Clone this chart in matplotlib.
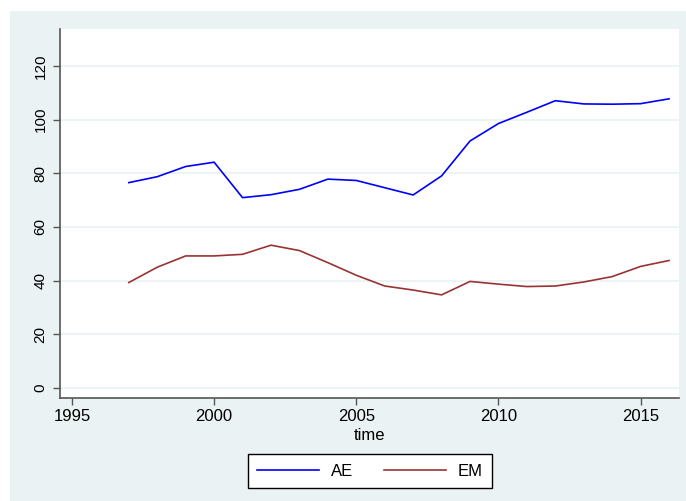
import matplotlib.pyplot as plt
from matplotlib.patches import Rectangle

years = list(range(1997, 2017))
ae = [76.5, 78.7, 82.5, 84.1, 70.9, 72.0, 74.0, 77.8, 77.3, 74.6,
      71.9, 79.0, 92.0, 98.5, 102.7, 107.0, 105.8, 105.7, 105.9, 107.7]
em = [39.3, 45.0, 49.2, 49.2, 49.8, 53.2, 51.2, 46.7, 42.0, 38.0,
      36.5, 34.7, 39.7, 38.7, 37.8, 38.0, 39.5, 41.5, 45.3, 47.5]
xticks = [1995, 2000, 2005, 2010, 2015]
yticks = [0, 20, 40, 60, 80, 100, 120]

plt.rcParams['font.family'] = ['Liberation Sans', 'DejaVu Sans']
bg = '#EAF2F3'
W, H = 686, 501

fig = plt.figure(figsize=(6.86, 5.01), dpi=100)
# white margin on top/left, then Stata-like pale background
fig.patches.append(Rectangle((10 / W, 0), 1 - 10 / W, 1 - 11 / H,
                             transform=fig.transFigure, facecolor=bg,
                             edgecolor='none', zorder=-10))

ax = fig.add_axes([60 / W, 1 - 398 / H, (679 - 60) / W, (398 - 29) / H])
ax.set_facecolor('white')
ax.plot(years, ae, color='#0000FF', lw=1.2, label='AE')
ax.plot(years, em, color='#993333', lw=1.2, label='EM')

ax.set_xlim(1994.58, 2016.35)
ax.set_ylim(-3.7, 133.7)
ax.set_xticks(xticks)
ax.set_yticks(yticks)
ax.set_yticklabels([str(v) for v in yticks], rotation=90, va='center')
ax.tick_params(axis='x', labelsize=12, pad=3)
ax.tick_params(axis='y', labelsize=11, pad=4)
ax.tick_params(axis='both', color='#555555', length=5, width=1)
ax.grid(axis='y', color=bg, lw=1.2)
ax.set_axisbelow(True)
for s in ['top', 'right']:
    ax.spines[s].set_visible(False)
for s in ['left', 'bottom']:
    ax.spines[s].set_color('#555555')
    ax.spines[s].set_linewidth(1.2)
ax.set_xlabel('time', fontsize=12, labelpad=3)

leg = fig.legend(loc='center', bbox_to_anchor=(370 / W, 1 - 471 / H), ncol=2,
                 frameon=True, fancybox=False, fontsize=12, handlelength=3.7,
                 handletextpad=0.7, columnspacing=1.9, borderpad=0.55,
                 framealpha=1)
leg.get_frame().set_edgecolor('black')
leg.get_frame().set_facecolor('white')
leg.get_frame().set_linewidth(1.0)

fig.savefig('out.png', dpi=100, facecolor='white')
